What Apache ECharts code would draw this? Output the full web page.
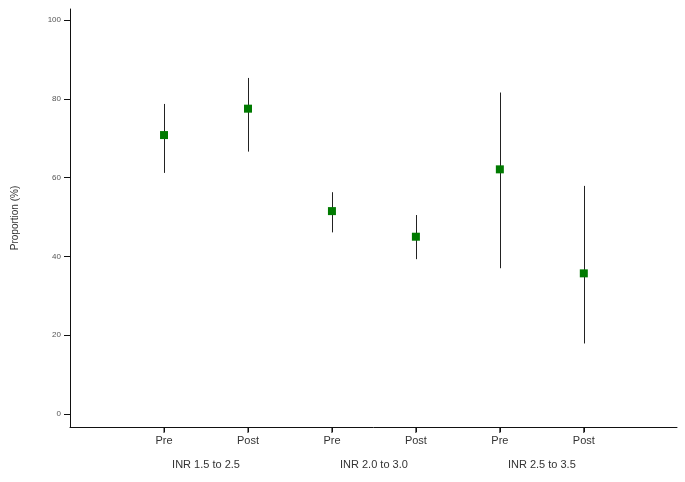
<!DOCTYPE html>
<html>
<head>
<meta charset="utf-8">
<script src="https://cdn.jsdelivr.net/npm/echarts@6/dist/echarts.min.js"></script>
<style>
    html, body { margin: 0; padding: 0; background: #fff; }
    #main { width: 685px; height: 482px; }
</style>
</head>
<body>
<div id="main"></div>
<script>
// data
var positions = [1, 2, 3, 4, 5, 6];
var periodLabels = ['Pre', 'Post', 'Pre', 'Post', 'Pre', 'Post'];
var groupPositions = [1.5, 3.5, 5.5];
var groupLabels = ['INR 1.5 to 2.5', 'INR 2.0 to 3.0', 'INR 2.5 to 3.5'];
var estimate = [70.8, 77.5, 51.5, 45.0, 62.1, 35.7];
var lower = [61.2, 66.6, 46.1, 39.3, 37.0, 17.9];
var upper = [78.7, 85.3, 56.3, 50.5, 81.6, 57.9];
var yTicks = [0, 20, 40, 60, 80, 100];

var yMin = -3.3;
var yMax = 102.8;

var myChart = echarts.init(document.getElementById('main'));

var points = [];
var bars = [];
var tickData = [];
for (var i = 0; i < positions.length; i++) {
    points.push([positions[i], estimate[i]]);
    bars.push([positions[i], lower[i], upper[i]]);
    tickData.push([positions[i], yMin]);
}

var font = 'Liberation Sans, Arial, sans-serif';

var option = {
    animation: false,
    backgroundColor: '#fff',
    grid: { left: 70, right: 8, top: 9, bottom: 55 },
    xAxis: [{
        type: 'value',
        min: -0.12,
        max: 7.11,
        splitLine: { show: false },
        axisLine: { onZero: false, lineStyle: { color: '#111', width: 1 } },
        axisTick: { show: true, customValues: positions, length: 5, inside: false, lineStyle: { color: '#111', width: 1 } },
        axisLabel: {
            customValues: positions,
            color: '#333',
            fontSize: 11,
            fontFamily: font,
            margin: 8,
            formatter: function (v) {
                return periodLabels[positions.indexOf(v)];
            }
        }
    }, {
        type: 'value',
        position: 'bottom',
        min: -0.12,
        max: 7.11,
        splitLine: { show: false },
        axisLine: { show: false, onZero: false },
        axisTick: { show: false },
        axisLabel: {
            customValues: groupPositions,
            color: '#333',
            fontSize: 11,
            fontFamily: font,
            margin: 32,
            formatter: function (v) {
                return groupLabels[groupPositions.indexOf(v)];
            }
        }
    }],
    yAxis: {
        type: 'value',
        min: yMin,
        max: yMax,
        name: 'Proportion (%)',
        nameLocation: 'middle',
        nameGap: 50,
        nameTextStyle: { color: '#333', fontSize: 10, fontFamily: font },
        splitLine: { show: false },
        axisLine: { show: true, onZero: false, lineStyle: { color: '#111', width: 1 } },
        axisTick: { show: true, customValues: yTicks, length: 6, lineStyle: { color: '#111' } },
        axisLabel: {
            customValues: yTicks,
            color: '#555',
            fontSize: 8,
            fontFamily: font,
            margin: 9
        }
    },
    series: [{
        // confidence interval lines
        type: 'custom',
        data: bars,
        z: 2,
        renderItem: function (params, api) {
            var lo = api.coord([api.value(0), api.value(1)]);
            var hi = api.coord([api.value(0), api.value(2)]);
            var x = Math.round(lo[0]) + 0.5;
            return {
                type: 'line',
                shape: { x1: x, y1: lo[1], x2: x, y2: hi[1] },
                style: { stroke: '#222', lineWidth: 1 }
            };
        }
    }, {
        type: 'scatter',
        data: points,
        z: 3,
        symbol: 'rect',
        symbolSize: 8,
        itemStyle: { color: '#007a00', opacity: 1 }
    }, {
        // x tick marks under the axis line
        type: 'scatter',
        data: tickData,
        clip: false,
        silent: true,
        z: 5,
        symbol: 'rect',
        symbolSize: [1, 6],
        symbolOffset: [0, 3],
        itemStyle: { color: '#111', opacity: 1 }
    }]
};

myChart.setOption(option);
</script>
</body>
</html>
